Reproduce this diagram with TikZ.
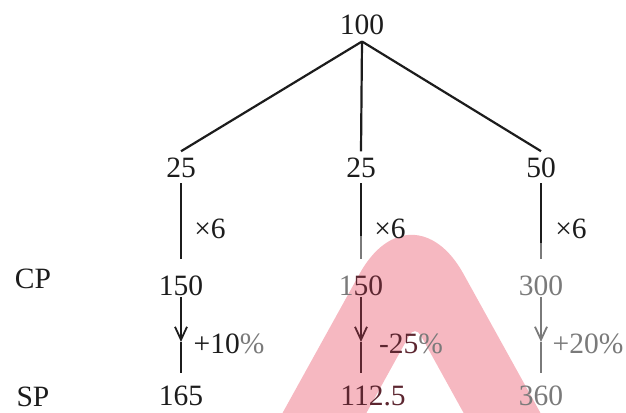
\documentclass[tikz,border=0pt]{standalone}
\usepackage{fontspec}
\setmainfont{Liberation Serif}
\usetikzlibrary{arrows.meta}
\definecolor{pinkA}{RGB}{246,184,193}
\definecolor{ink}{RGB}{28,28,28}
\definecolor{fade}{RGB}{122,122,122}
\definecolor{maroonA}{RGB}{92,38,48}
\begin{document}
\begin{tikzpicture}[x=1pt,y=-1pt,
  lbl/.style={font=\fontsize{29.5}{35}\selectfont, inner xsep=0pt, inner ysep=6pt, anchor=base},
  tree/.style={ink, line width=2.2pt},
  vline/.style={line width=2.2pt, shorten >=10pt},
  arr/.style={line width=2.2pt, -{Straight Barb[length=13pt,width=12pt,line width=1.8pt]}, shorten <=-4pt},
  tail/.style={line width=2.2pt, shorten >=6pt}]
\useasboundingbox (0,0) rectangle (626,412);
\clip (0,0) rectangle (626,412);
% pink shape
\fill[pinkA] (179,600) [rounded corners=107pt] -- (411.5,180) -- (644,600) [sharp corners] -- (567,600) [rounded corners=12pt] -- (415,325) -- (263,600) [sharp corners] -- cycle;
% nodes
\node[lbl, ink] (top) at (362,35) {100};
\node[lbl, ink] (a1) at (181,177) {25};
\node[lbl, ink] (b1) at (361,177) {25};
\node[lbl, ink] (c1) at (541,177) {50};
\node[lbl, ink] (cp) at (33,288) {CP};
\node[lbl, ink] (sp) at (33,406) {SP};
\node[lbl, ink] (a2) at (181,295) {150};
\node[lbl] (b2) at (361,295) {\textcolor{fade}{1}\textcolor{maroonA}{50}};
\node[lbl, fade] (c2) at (541,295) {300};
\node[lbl, ink] (a3) at (181,405) {165};
\node[lbl, maroonA] (b3) at (373,405) {112.5};
\node[lbl, fade] (c3) at (541,405) {360};
\node[lbl, ink] (ax) at (210,238) {×6};
\node[lbl, ink] (bx) at (390,238) {×6};
\node[lbl, ink] (cx) at (571,238) {×6};
\node[lbl] (ap) at (229,353) {\textcolor{ink}{+10}\textcolor{fade}{\%}};
\node[lbl] (bp) at (411,353) {\textcolor{maroonA}{-25}\textcolor{fade}{\%}};
\node[lbl, fade] (cpp) at (588,353) {+20\%};
% tree
\draw[tree] (top.south) -- (a1.north);
\draw[tree] (top.south) -- (b1.north);
\draw[tree] (top.south) -- (c1.north);
% x6 lines
\draw[vline, ink] (a1.south) -- (a2.north);
\path (b1.south) -- coordinate[pos=0.61] (bm) (b2.north);
\path (c1.south) -- coordinate[pos=0.70] (cm) (c2.north);
\draw[vline, fade] (b1.south) -- (b2.north);
\draw[line width=2.2pt, ink] (b1.south) -- (bm);
\draw[vline, fade] (c1.south) -- (c2.north);
\draw[line width=2.2pt, ink] (c1.south) -- (cm);
% arrows
\path (a2.south) -- coordinate[pos=0.52] (am2) (a3.north);
\path (b2.south) -- coordinate[pos=0.52] (bm2) (b3.north -| b2.south);
\path (c2.south) -- coordinate[pos=0.52] (cm2) (c3.north);
\draw[arr, ink] (a2.south) -- (am2);
\draw[tail, ink] (am2) -- (a3.north);
\draw[arr, maroonA] (b2.south) -- (bm2);
\draw[tail, maroonA] (bm2) -- (b3.north -| bm2);
\draw[arr, fade] (c2.south) -- (cm2);
\draw[tail, fade] (cm2) -- (c3.north);
\end{tikzpicture}
\end{document}
